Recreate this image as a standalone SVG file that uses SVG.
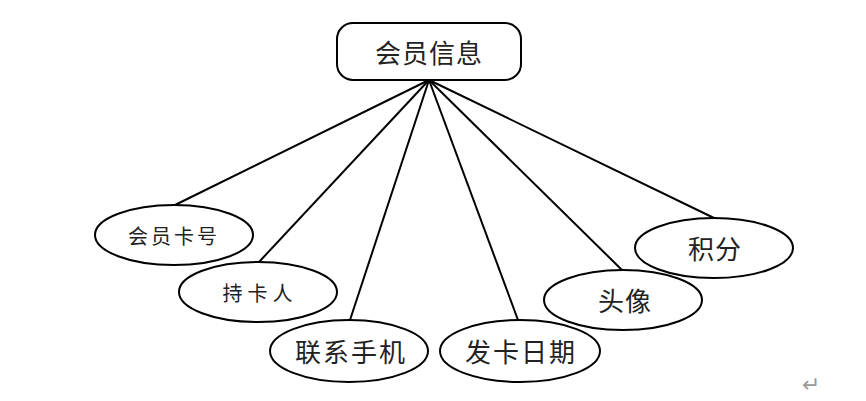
<svg xmlns="http://www.w3.org/2000/svg" width="866" height="401" viewBox="0 0 866 401">
<defs>
<style>
.shape{fill:#ffffff;stroke:#000000;stroke-width:2}
.edge{stroke:#000000;stroke-width:2;fill:none}
.t{font-family:"Noto Sans CJK SC","Noto Sans",sans-serif;fill:#222222;text-anchor:middle;dominant-baseline:central}
</style>
</defs>
<rect width="866" height="401" fill="#ffffff"/>
<g id="connectors">
<line class="edge" x1="429" y1="80" x2="175" y2="205"/>
<line class="edge" x1="429" y1="80" x2="259" y2="262"/>
<line class="edge" x1="429" y1="80" x2="350" y2="320"/>
<line class="edge" x1="429" y1="80" x2="518" y2="320"/>
<line class="edge" x1="429" y1="80" x2="623" y2="271"/>
<line class="edge" x1="429" y1="80" x2="714" y2="218"/>
</g>
<g id="root">
<rect class="shape" x="337" y="23" width="184" height="57" rx="16" ry="16"/>
<text class="t" x="429" y="51" font-size="26" letter-spacing="1">会员信息</text>
</g>
<g id="n1">
<ellipse class="shape" cx="174" cy="235" rx="79" ry="30"/>
<text class="t" x="174" y="235" font-size="20" letter-spacing="3">会员卡号</text>
</g>
<g id="n2">
<ellipse class="shape" cx="258" cy="292" rx="79" ry="30"/>
<text class="t" x="260" y="292" font-size="20" letter-spacing="5">持卡人</text>
</g>
<g id="n3">
<ellipse class="shape" cx="349" cy="351" rx="79" ry="31"/>
<text class="t" x="351" y="350" font-size="26" letter-spacing="2">联系手机</text>
</g>
<g id="n4">
<ellipse class="shape" cx="520" cy="351" rx="80" ry="31"/>
<text class="t" x="521" y="350" font-size="26" letter-spacing="2">发卡日期</text>
</g>
<g id="n5">
<ellipse class="shape" cx="623" cy="300" rx="79" ry="30"/>
<text class="t" x="625" y="299" font-size="26" letter-spacing="1">头像</text>
</g>
<g id="n6">
<ellipse class="shape" cx="714" cy="248" rx="79" ry="30"/>
<text class="t" x="715" y="247" font-size="26" letter-spacing="1">积分</text>
</g>
<text x="811" y="384" font-family="DejaVu Sans, sans-serif" font-size="22" fill="#999999" text-anchor="middle" dominant-baseline="central">↵</text>
</svg>
